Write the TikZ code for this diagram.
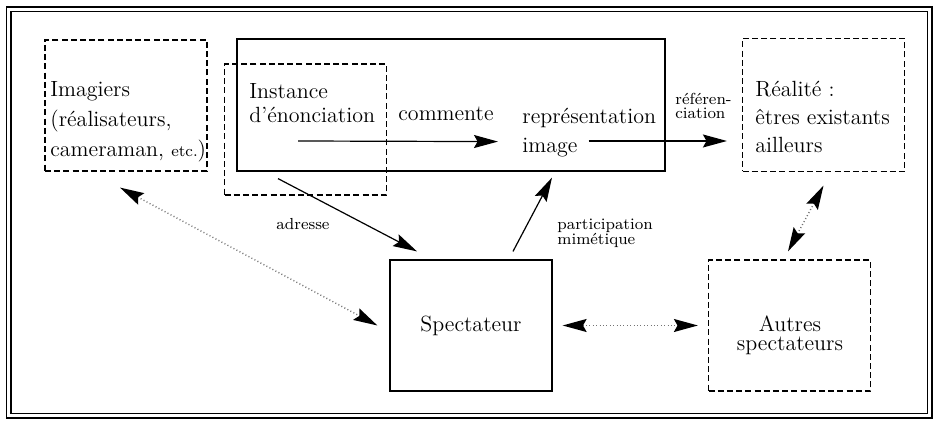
\documentclass[tikz,border=0pt]{standalone}
\usepackage{tikz}
\usetikzlibrary{arrows.meta}
\setlength{\lineskiplimit}{-10pt}

\begin{document}
\begin{tikzpicture}[x=0.5pt, y=-0.5pt,
    >={Stealth[length=12pt, width=6.5pt, inset=1.8pt, color=black]},
    box/.style={draw, line width=0.6pt, minimum width=81pt, minimum height=65.5pt, inner sep=0pt},
    dbox/.style={box, dash pattern=on 3pt off 1.6pt},
    txt/.style={inner sep=0pt, align=left, font=\fontsize{11}{14.5}\selectfont},
    lbl/.style={inner sep=0pt, align=left, font=\fontsize{8}{7.5}\selectfont},
    arrow/.style={->, line width=0.6pt},
    dots/.style={<->, line width=0.7pt, black!55, dash pattern=on 0.5pt off 1.2pt},
    frame/.style={line width=0.75pt, double, double distance=1.5pt}
]
\useasboundingbox (0,0) rectangle (938,421);
\draw[frame] (8.75,9.5) rectangle (929.5,416);

% boxes
\node[dbox] (imag) at (126,105.5) {};
\node[box, minimum width=214pt, minimum height=66pt] (film) at (451,105) {};
\node[dbox] (inst) at (305.5,129.5) {};
\node[dbox, minimum height=66.5pt] (real) at (823.5,105) {};
\node[box, font=\fontsize{11}{14.5}\selectfont] (spec) at (471,325.5) {Spectateur};
\node[dbox] (autres) at (789.5,325.5) {};

% texts
\node[txt, anchor=west, font=\fontsize{11}{15}\selectfont] (imagT) at (50,122) {Imagiers\\(réalisateurs,\\cameraman, {\footnotesize etc.})};
\node[txt, anchor=west, font=\fontsize{11}{12}\selectfont] (instT) at (249,103) {Instance\\d’énonciation};
\node[txt, anchor=base west] (cmT) at (398,121) {commente};
\node[txt, anchor=west] (repT) at (522,133) {représentation\\image};
\node[lbl, anchor=west, font=\fontsize{8}{6.8}\selectfont] (refT) at (675,106) {référen-\\ciation};
\node[txt, anchor=west, font=\fontsize{11}{14}\selectfont] (realT) at (755,117) {Réalité :\\êtres existants\\ailleurs};
\node[txt, align=center, font=\fontsize{11}{9.5}\selectfont] (autT) at (790,335) {Autres\\spectateurs};
\node[lbl] (adrT) at (303,224) {adresse};
\node[lbl, anchor=west] (partT) at (557,233) {participation\\mimétique};

% arrows
\draw[arrow] ([shift={(-3.75pt,-5.75pt)}]inst.center) -- ([shift={(23.5pt,15pt)}]film.south);
\draw[arrow] ([shift={(-38.5pt,-18pt)}]film.east) -- ([shift={(-7.5pt,-18pt)}]real.west);
\draw[arrow] ([shift={(-13.75pt,8.5pt)}]inst.south) -- ([shift={(-27pt,4pt)}]spec.north);
\draw[arrow] ([shift={(21pt,4pt)}]spec.north) -- ([shift={(50.5pt,-3pt)}]film.south);
\draw[dots] ([shift={(-3pt,-8pt)}]imag.south) -- ([xshift=-6pt]spec.west);
\draw[dots, shorten <=5pt, shorten >=5pt] (spec) -- (autres);
\draw[dots] ([yshift=-6.75pt]real.south) -- ([shift={(-0.75pt,4pt)}]autres.north);

\end{tikzpicture}
\end{document}
